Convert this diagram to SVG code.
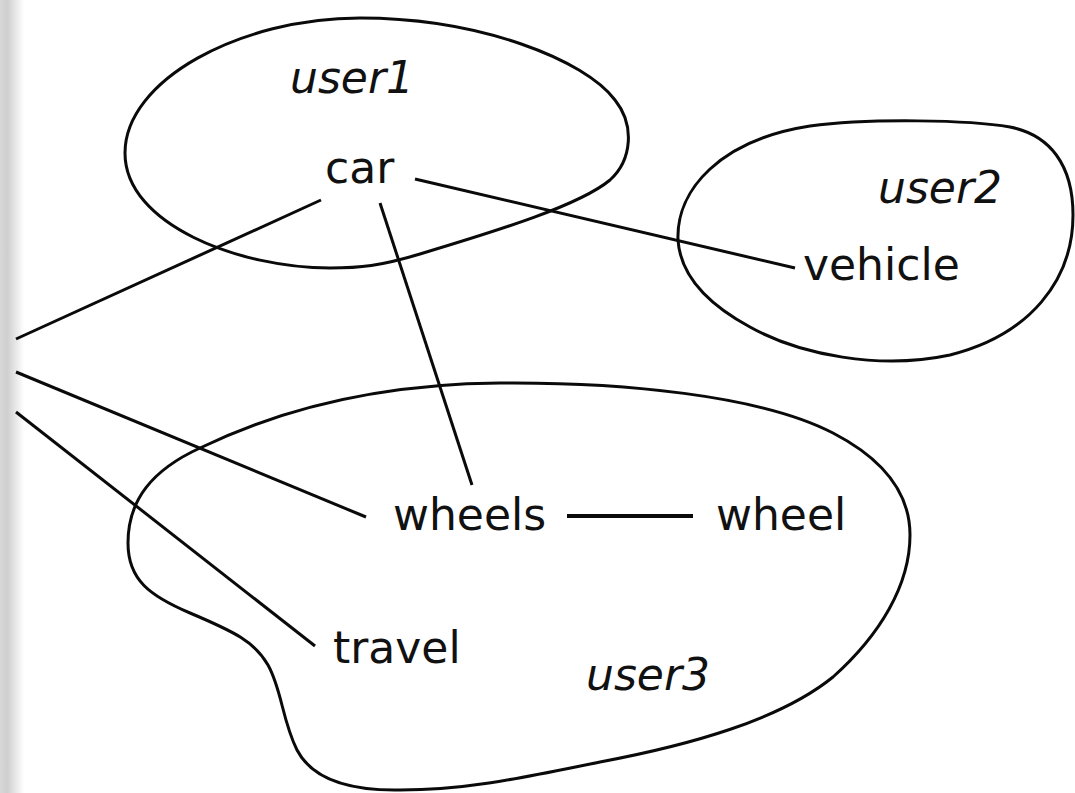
<svg xmlns="http://www.w3.org/2000/svg" width="1075" height="793" viewBox="0 0 1075 793">
  <defs>
    <linearGradient id="band" x1="0" y1="0" x2="1" y2="0">
      <stop offset="0" stop-color="#d8d8d8"/>
      <stop offset="0.3" stop-color="#cfcfcf"/>
      <stop offset="1" stop-color="#ffffff"/>
    </linearGradient>
    <style>
      .blob { fill: none; stroke: #0a0a0a; stroke-width: 3; stroke-linejoin: round; }
      .edge { fill: none; stroke: #0a0a0a; stroke-width: 3; stroke-linecap: butt; }
      .term { font-family: "DejaVu Sans", "Verdana", sans-serif; font-size: 44px; fill: #111; }
      .user { font-family: "DejaVu Sans", "Verdana", sans-serif; font-size: 44px; font-style: italic; fill: #111; }
    </style>
  </defs>
  <rect x="0" y="0" width="1075" height="793" fill="#ffffff"/>
  <rect x="0" y="0" width="24" height="793" fill="url(#band)"/>

  <g id="user1">
    <path class="blob" d="M 360,18 C 480,18 585,60 615,100 C 635,125 632,160 610,180 C 580,205 500,230 420,254 C 380,266 360,268 330,268 C 240,268 125,225 125,153 C 125,80 240,18 360,18 Z"/>
    <text class="user" x="290" y="93">user1</text>
  </g>

  <g id="user2">
    <path class="blob" d="M 678,240 C 676,190 720,140 810,126 C 870,118 970,120 1010,127 C 1050,135 1073,165 1073,215 C 1073,280 1030,335 950,355 C 880,370 800,355 750,327 C 700,300 680,270 678,240 Z"/>
    <text class="user" x="878" y="203">user2</text>
  </g>

  <g id="user3">
    <path class="blob" d="M 500,383 C 620,382 760,395 833,433 C 885,460 910,495 910,535 C 910,585 880,635 833,677 C 780,720 690,745 600,762 C 530,776 470,790 400,790 C 340,791 310,775 297,750 C 282,720 282,690 268,665 C 255,642 235,632 190,613 C 150,596 128,580 128,543 C 128,500 152,470 200,448 C 262,418 360,384 500,383 Z"/>
    <text class="user" x="586" y="690">user3</text>
  </g>

  <g id="connectors">
    <line class="edge" x1="321" y1="200" x2="16" y2="339"/>
    <line class="edge" x1="380" y1="203" x2="472" y2="485"/>
    <line class="edge" x1="415" y1="179" x2="795" y2="268"/>
    <line class="edge" x1="16" y1="372" x2="366" y2="517"/>
    <line class="edge" x1="16" y1="412" x2="315" y2="646"/>
    <line class="edge" x1="567" y1="516" x2="693" y2="516" style="stroke-width:4"/>
  </g>

  <g id="car"><text class="term" x="325" y="183">car</text></g>
  <g id="vehicle"><text class="term" x="803" y="280">vehicle</text></g>
  <g id="wheels"><text class="term" x="393" y="530">wheels</text></g>
  <g id="wheel"><text class="term" x="716" y="530">wheel</text></g>
  <g id="travel"><text class="term" x="333" y="663">travel</text></g>
</svg>
